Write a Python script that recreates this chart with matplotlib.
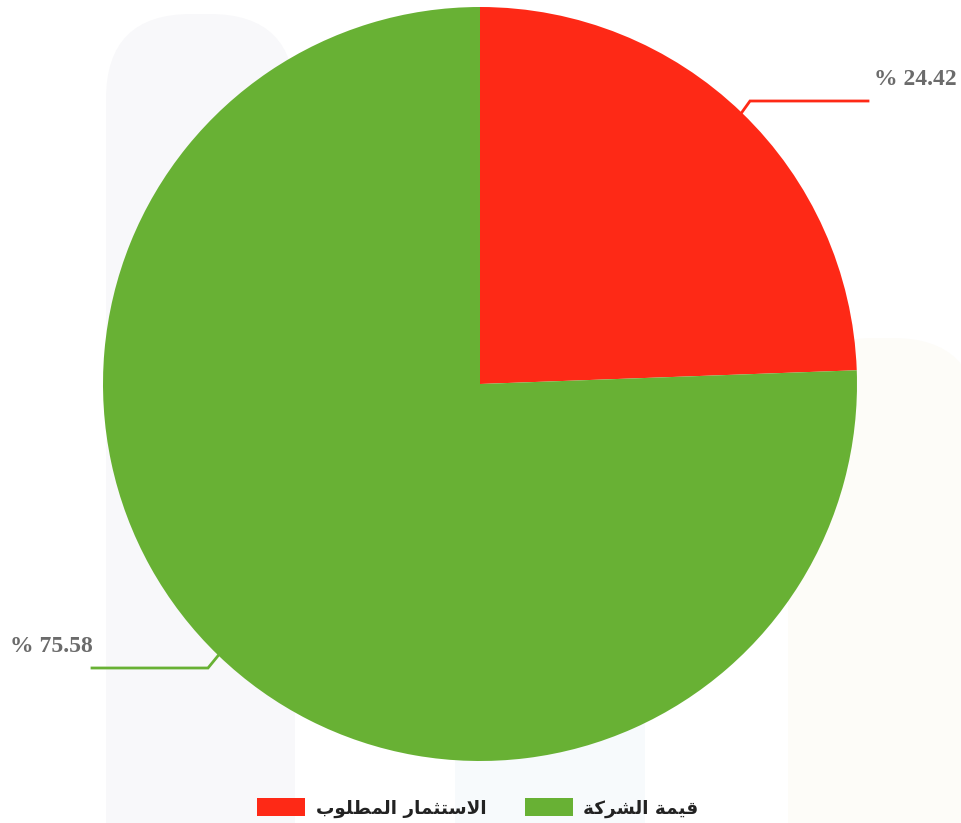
import numpy as np
import matplotlib
matplotlib.use('Agg')
import matplotlib.pyplot as plt
from matplotlib.patches import FancyBboxPatch

# Share of each part of the deal (percent)
labels = ['الاستثمار المطلوب', 'قيمة الشركة']
shares = [24.42, 75.58]
colors = ['#fe2916', '#68b134']

# Arabic letter forms: isolated, final, initial, medial
FORMS = {
    'ا': ('\uFE8D', '\uFE8E', None, None),
    'ب': ('\uFE8F', '\uFE90', '\uFE91', '\uFE92'),
    'ت': ('\uFE95', '\uFE96', '\uFE97', '\uFE98'),
    'ث': ('\uFE99', '\uFE9A', '\uFE9B', '\uFE9C'),
    'ر': ('\uFEAD', '\uFEAE', None, None),
    'س': ('\uFEB1', '\uFEB2', '\uFEB3', '\uFEB4'),
    'ش': ('\uFEB5', '\uFEB6', '\uFEB7', '\uFEB8'),
    'ط': ('\uFEC1', '\uFEC2', '\uFEC3', '\uFEC4'),
    'ق': ('\uFED5', '\uFED6', '\uFED7', '\uFED8'),
    'ك': ('\uFED9', '\uFEDA', '\uFEDB', '\uFEDC'),
    'ل': ('\uFEDD', '\uFEDE', '\uFEDF', '\uFEE0'),
    'م': ('\uFEE1', '\uFEE2', '\uFEE3', '\uFEE4'),
    'ة': ('\uFE93', '\uFE94', None, None),
    'و': ('\uFEED', '\uFEEE', None, None),
    'ي': ('\uFEF1', '\uFEF2', '\uFEF3', '\uFEF4'),
    'لا': ('\uFEFB', '\uFEFC', None, None),
}


def shape_word(word):
    # split into glyph tokens, merging lam + alef into the ligature
    tokens = []
    i = 0
    while i < len(word):
        if word[i] == 'ل' and i + 1 < len(word) and word[i + 1] == 'ا':
            tokens.append('لا')
            i += 2
        else:
            tokens.append(word[i])
            i += 1
    out = []
    for k, t in enumerate(tokens):
        iso, fin, ini, med = FORMS[t]
        prev_joins = k > 0 and FORMS[tokens[k - 1]][2] is not None
        next_joins = k < len(tokens) - 1 and ini is not None
        if prev_joins and next_joins:
            out.append(med)
        elif prev_joins:
            out.append(fin)
        elif next_joins:
            out.append(ini)
        else:
            out.append(iso)
    return ''.join(reversed(out))


def shape(text):
    # matplotlib lays text out left to right, so reverse the word order as well
    return ' '.join(shape_word(w) for w in reversed(text.split(' ')))


W, H = 961, 823
fig = plt.figure(figsize=(W / 100, H / 100), dpi=100)
ax = fig.add_axes([0, 0, 1, 1])

# faint rounded columns in the background
rad = 85
for x0, x1, top, col in [(106, 295, 14, '#f8f8fa'),
                         (455, 645, 600, '#f7fafc'),
                         (788, 978, 338, '#fdfcf8')]:
    ax.add_patch(FancyBboxPatch((x0 + rad, -200), x1 - x0 - 2 * rad, H - top + 200 - rad,
                                boxstyle=f'round,pad={rad}', fc=col, ec='none', zorder=0))

cx, cy, r = 480, H - 384, 377
wedges, _ = ax.pie(shares, colors=colors, startangle=90, counterclock=False,
                   center=(cx, cy), radius=r, frame=True,
                   wedgeprops=dict(linewidth=0, zorder=2))

# leader lines and value labels
label_spots = [((750, H - 101), (868, H - 101), (957, H - 79), 'right'),
               ((208, H - 668), (92, H - 668), (10, H - 646), 'left')]
ang = 90
for share, col, (elbow, end, txt, ha) in zip(shares, colors, label_spots):
    mid = np.deg2rad(ang - share * 3.6 / 2)
    ang -= share * 3.6
    edge = (cx + r * np.cos(mid), cy + r * np.sin(mid))
    ax.plot([edge[0], elbow[0], end[0]], [edge[1], elbow[1], end[1]],
            color=col, lw=2, zorder=3, solid_joinstyle='miter')
    ax.text(txt[0], txt[1], f'% {share:.2f}', ha=ha, va='center',
            fontsize=17, fontweight='bold', color='#6b6b6b',
            family=['Liberation Serif', 'DejaVu Serif'], zorder=4)

ax.set_xlim(0, W)
ax.set_ylim(0, H)
ax.set_aspect('equal')
ax.axis('off')

fs = 13.2
leg = ax.legend(wedges, [shape(t) for t in labels], ncol=2, loc='center',
                bbox_to_anchor=(478 / W, 1 - 808 / H), bbox_transform=fig.transFigure,
                frameon=False, handlelength=2.62, handleheight=1.09,
                handletextpad=0.55, columnspacing=2.13, borderpad=0,
                prop=dict(family='DejaVu Sans', weight='bold', size=fs))
for t in leg.get_texts():
    t.set_color('#222222')

fig.savefig('out.png', dpi=100)
